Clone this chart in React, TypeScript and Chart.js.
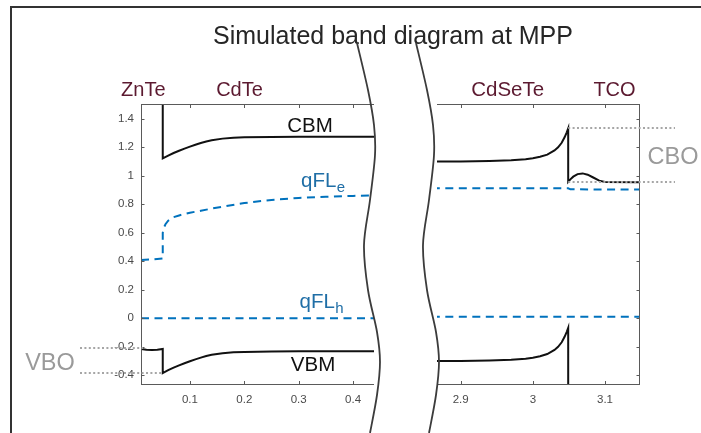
import React, { useEffect, useRef } from "react";
import { Chart, registerables } from "chart.js";

Chart.register(...registerables);

const FONT = '"Liberation Sans", Arial, Helvetica, sans-serif';

// ---------------- data ----------------
// shared energy axis (eV)
const Y_MIN = -0.461;
const Y_MAX = 1.504;
const yTicks = [-0.4, -0.2, 0, 0.2, 0.4, 0.6, 0.8, 1, 1.2, 1.4];
const yTickLabels = ["-0.4", "-0.2", "0", "0.2", "0.4", "0.6", "0.8", "1", "1.2", "1.4"];

// left panel: ZnTe / CdTe (position, µm)
const LEFT_X_MIN = 0.01;
const LEFT_X_MAX = 0.4385;
const leftXTicks = [0.1, 0.2, 0.3, 0.4];
const leftXTickLabels = ["0.1", "0.2", "0.3", "0.4"];

const cbmLeftX = [0.05, 0.05, 0.06, 0.07, 0.08, 0.09, 0.1, 0.11, 0.12, 0.13, 0.14, 0.16, 0.18, 0.2, 0.25, 0.3, 0.44];
const cbmLeftY = [1.9, 1.123, 1.142, 1.16, 1.176, 1.191, 1.205, 1.218, 1.23, 1.241, 1.25, 1.261, 1.267, 1.27, 1.273, 1.274, 1.274];

const vbmLeftX = [0.01, 0.02, 0.03, 0.04, 0.05, 0.05, 0.06, 0.07, 0.08, 0.09, 0.1, 0.11, 0.12, 0.13, 0.14, 0.16, 0.18, 0.2, 0.25, 0.3, 0.44];
const vbmLeftY = [-0.215, -0.221, -0.223, -0.221, -0.215, -0.384, -0.364, -0.346, -0.33, -0.315, -0.301, -0.288, -0.276, -0.265, -0.256, -0.245, -0.239, -0.236, -0.233, -0.232, -0.232];

const qfleLeftX = [0.01, 0.03, 0.05, 0.05, 0.052, 0.055, 0.06, 0.07, 0.08, 0.09, 0.1, 0.12, 0.14, 0.17, 0.2, 0.25, 0.3, 0.35, 0.4, 0.44];
const qfleLeftY = [0.41, 0.413, 0.42, 0.6, 0.635, 0.66, 0.685, 0.71, 0.722, 0.732, 0.741, 0.755, 0.77, 0.79, 0.809, 0.831, 0.845, 0.853, 0.859, 0.863];

const qflhLeftX = [0.01, 0.44];
const qflhLeftY = [0.0, 0.0];

// right panel: CdSeTe / TCO
const RIGHT_X_MIN = 2.8672;
const RIGHT_X_MAX = 3.1485;
const rightXTicks = [2.9, 3.0, 3.1];
const rightXTickLabels = ["2.9", "3", "3.1"];

const cbmRightX = [2.86, 2.9, 2.94, 2.97, 2.99, 3.0, 3.01, 3.02, 3.03, 3.035, 3.04, 3.044, 3.047, 3.049, 3.049, 3.052, 3.056, 3.062, 3.069, 3.076, 3.083, 3.092, 3.1, 3.15];
const cbmRightY = [1.1, 1.101, 1.104, 1.109, 1.117, 1.124, 1.134, 1.149, 1.178, 1.2, 1.232, 1.27, 1.305, 1.333, 0.958, 0.975, 0.994, 1.012, 1.017, 1.008, 0.99, 0.966, 0.957, 0.954];

const vbmRightX = [2.86, 2.9, 2.94, 2.97, 2.99, 3.0, 3.01, 3.02, 3.03, 3.035, 3.04, 3.044, 3.047, 3.049, 3.049];
const vbmRightY = [-0.3, -0.299, -0.296, -0.291, -0.283, -0.276, -0.266, -0.251, -0.222, -0.2, -0.168, -0.13, -0.095, -0.067, -3.0];

const qfleRightX = [2.86, 3.049, 3.052, 3.15];
const qfleRightY = [0.913, 0.912, 0.905, 0.904];

const qflhRightX = [2.86, 3.15];
const qflhRightY = [0.011, 0.011];

// band offsets marked on the figure
const VBO_TOP = -0.21;
const VBO_BOTTOM = -0.384;
const CBO_TOP = 1.333;
const CBO_BOTTOM = 0.96;
const INTERFACE_LEFT = 0.05;
const INTERFACE_RIGHT = 3.049;

// ---------------- styles ----------------
const BLACK = "#111111";
const BLUE = "#0072BD";
const LABEL_BLUE = "#1f6ea6";
const MAROON = "#5c1a30";
const AXIS = "#5a5a5a";
const TICK_TEXT = "#4a4a4a";
const GREY_TEXT = "#9a9a9a";
const DOT = "#a6a6a6";

const pts = (xs: number[], ys: number[]) => xs.map((x, i) => ({ x, y: ys[i] }));

const solid = (xs: number[], ys: number[]) => ({
  data: pts(xs, ys),
  borderColor: BLACK,
  borderWidth: 2,
  pointRadius: 0,
  tension: 0,
  fill: false,
});
const dashed = (xs: number[], ys: number[]) => ({
  data: pts(xs, ys),
  borderColor: BLUE,
  borderWidth: 2,
  borderDash: [8, 5.5],
  pointRadius: 0,
  tension: 0,
  fill: false,
});

function text(ctx: CanvasRenderingContext2D, s: string, x: number, y: number, size: number, color: string, align: CanvasTextAlign = "left") {
  ctx.font = `${size}px ${FONT}`;
  ctx.fillStyle = color;
  ctx.textAlign = align;
  ctx.textBaseline = "alphabetic";
  ctx.fillText(s, x, y);
}

function subText(ctx: CanvasRenderingContext2D, main: string, sub: string, x: number, y: number, size: number, subSize: number, color: string) {
  text(ctx, main, x, y, size, color);
  const w = ctx.measureText(main).width;
  text(ctx, sub, x + w + 0.5, y + 5, subSize, color);
}

function dotted(ctx: CanvasRenderingContext2D, x1: number, x2: number, y: number) {
  ctx.save();
  ctx.strokeStyle = DOT;
  ctx.lineWidth = 2;
  ctx.setLineDash([2, 2.4]);
  ctx.beginPath();
  ctx.moveTo(x1, Math.round(y));
  ctx.lineTo(x2, Math.round(y));
  ctx.stroke();
  ctx.restore();
}

function smoothPath(ctx: CanvasRenderingContext2D, p: number[][]) {
  ctx.moveTo(p[0][0], p[0][1]);
  for (let i = 0; i < p.length - 1; i++) {
    const p0 = p[i - 1] || p[i];
    const p1 = p[i];
    const p2 = p[i + 1];
    const p3 = p[i + 2] || p2;
    ctx.bezierCurveTo(
      p1[0] + (p2[0] - p0[0]) / 6, p1[1] + (p2[1] - p0[1]) / 6,
      p2[0] - (p3[0] - p1[0]) / 6, p2[1] - (p3[1] - p1[1]) / 6,
      p2[0], p2[1]
    );
  }
}

// break-mark squiggle shape (relative to its own origin)
const squiggle = [[357, 43], [368, 90], [374, 125], [375, 155], [370, 200], [364, 245], [368, 290], [377, 332], [380, 362], [377, 395], [370, 433]];

function drawBoxTicks(chart: any, side: "left" | "right") {
  const { ctx, chartArea: a, scales } = chart;
  ctx.save();
  ctx.strokeStyle = AXIS;
  ctx.lineWidth = 1;
  ctx.beginPath();
  ctx.moveTo(a.left, a.top + 0.5);
  ctx.lineTo(a.right, a.top + 0.5);
  ctx.moveTo(a.left, a.bottom + 0.5);
  ctx.lineTo(a.right, a.bottom + 0.5);
  const ex = side === "left" ? a.left + 0.5 : a.right - 0.5;
  ctx.moveTo(ex, a.top);
  ctx.lineTo(ex, a.bottom + 1);
  const xt = side === "left" ? leftXTicks : rightXTicks;
  for (const v of xt) {
    const px = Math.round(scales.x.getPixelForValue(v)) + 0.5;
    ctx.moveTo(px, a.bottom);
    ctx.lineTo(px, a.bottom - 3);
    ctx.moveTo(px, a.top + 1);
    ctx.lineTo(px, a.top + 4);
  }
  for (const v of yTicks) {
    const py = Math.round(scales.y.getPixelForValue(v)) + 0.5;
    if (side === "left") {
      ctx.moveTo(a.left, py);
      ctx.lineTo(a.left + 3.5, py);
    } else {
      ctx.moveTo(a.right, py);
      ctx.lineTo(a.right - 3.5, py);
    }
  }
  ctx.stroke();
  ctx.restore();
}

const leftPlugin = {
  id: "leftDecor",
  afterDraw(chart: any) {
    const { ctx, chartArea: a, scales } = chart;
    drawBoxTicks(chart, "left");
    // outer frame
    ctx.save();
    ctx.strokeStyle = "#333333";
    ctx.lineWidth = 2;
    ctx.beginPath();
    ctx.moveTo(11, 440);
    ctx.lineTo(11, 7);
    ctx.lineTo(710, 7);
    ctx.stroke();
    ctx.restore();
    // VBO marks
    const xi = scales.x.getPixelForValue(INTERFACE_LEFT);
    dotted(ctx, 80, a.left + 2, scales.y.getPixelForValue(VBO_TOP));
    dotted(ctx, 80, xi, scales.y.getPixelForValue(VBO_BOTTOM));
    text(ctx, "VBO", 50, 370, 23.5, GREY_TEXT, "center");
    // band labels
    text(ctx, "CBM", 310, 131.5, 20.5, BLACK, "center");
    text(ctx, "VBM", 313, 370.5, 20.5, BLACK, "center");
    subText(ctx, "qFL", "e", 301, 186.5, 20.5, 15, LABEL_BLUE);
    subText(ctx, "qFL", "h", 299.5, 308.3, 20.5, 15, LABEL_BLUE);
  },
};

const rightPlugin = {
  id: "rightDecor",
  afterDraw(chart: any) {
    const { ctx, chartArea: a, scales } = chart;
    drawBoxTicks(chart, "right");
    const xi = scales.x.getPixelForValue(INTERFACE_RIGHT);
    dotted(ctx, xi, a.right + 35, scales.y.getPixelForValue(CBO_TOP));
    dotted(ctx, xi, a.right + 35, scales.y.getPixelForValue(CBO_BOTTOM));
    text(ctx, "CBO", 673, 163.5, 23.5, GREY_TEXT, "center");
    // title and material labels
    text(ctx, "Simulated band diagram at MPP", 393, 44.3, 25, "#262626", "center");
    text(ctx, "ZnTe", 143.3, 95.7, 20, MAROON, "center");
    text(ctx, "CdTe", 239.5, 95.7, 20, MAROON, "center");
    text(ctx, "CdSeTe", 507.7, 96, 20.5, MAROON, "center");
    text(ctx, "TCO", 614.5, 96, 20, MAROON, "center");
    // axis-break squiggles
    ctx.save();
    ctx.strokeStyle = "#3c3c3c";
    ctx.lineWidth = 1.8;
    for (const off of [0, 59]) {
      ctx.beginPath();
      smoothPath(ctx, squiggle.map(([x, y]) => [x + off, y]));
      ctx.stroke();
    }
    ctx.restore();
  },
};

const tickFont = { family: FONT, size: 11.5 };

function leftConfig(): any {
  return {
    type: "line",
    data: {
      datasets: [
        solid(cbmLeftX, cbmLeftY),
        solid(vbmLeftX, vbmLeftY),
        dashed(qfleLeftX, qfleLeftY),
        dashed(qflhLeftX, qflhLeftY),
      ],
    },
    options: {
      animation: false,
      responsive: false,
      events: [],
      layout: { padding: { left: 0, top: 104, right: 327, bottom: 0 } },
      plugins: { legend: { display: false }, tooltip: { enabled: false }, title: { display: false } },
      scales: {
        x: {
          type: "linear",
          min: LEFT_X_MIN,
          max: LEFT_X_MAX,
          grid: { display: false, drawTicks: false },
          border: { display: false },
          afterBuildTicks: (s: any) => { s.ticks = leftXTicks.map((v) => ({ value: v })); },
          afterFit: (s: any) => { s.height = 49; },
          ticks: { padding: 9, color: TICK_TEXT, font: tickFont, autoSkip: false, maxRotation: 0, callback: (_v: any, i: number) => leftXTickLabels[i] },
        },
        y: {
          type: "linear",
          position: "left",
          min: Y_MIN,
          max: Y_MAX,
          grid: { display: false, drawTicks: false },
          border: { display: false },
          afterBuildTicks: (s: any) => { s.ticks = yTicks.map((v) => ({ value: v })); },
          afterFit: (s: any) => { s.width = 141; },
          ticks: { padding: 7, color: TICK_TEXT, font: tickFont, autoSkip: false, callback: (_v: any, i: number) => yTickLabels[i] },
        },
      },
    },
    plugins: [leftPlugin],
  };
}

function rightConfig(): any {
  return {
    type: "line",
    data: {
      datasets: [
        solid(cbmRightX, cbmRightY),
        solid(vbmRightX, vbmRightY),
        dashed(qfleRightX, qfleRightY),
        dashed(qflhRightX, qflhRightY),
      ],
    },
    options: {
      animation: false,
      responsive: false,
      events: [],
      layout: { padding: { left: 437, top: 104, right: 61, bottom: 0 } },
      plugins: { legend: { display: false }, tooltip: { enabled: false }, title: { display: false } },
      scales: {
        x: {
          type: "linear",
          min: RIGHT_X_MIN,
          max: RIGHT_X_MAX,
          grid: { display: false, drawTicks: false },
          border: { display: false },
          afterBuildTicks: (s: any) => { s.ticks = rightXTicks.map((v) => ({ value: v })); },
          afterFit: (s: any) => { s.height = 49; },
          ticks: { padding: 9, color: TICK_TEXT, font: tickFont, autoSkip: false, maxRotation: 0, callback: (_v: any, i: number) => rightXTickLabels[i] },
        },
        y: {
          type: "linear",
          display: false,
          min: Y_MIN,
          max: Y_MAX,
        },
      },
    },
    plugins: [rightPlugin],
  };
}

export default function App() {
  const leftRef = useRef<HTMLCanvasElement>(null);
  const rightRef = useRef<HTMLCanvasElement>(null);
  useEffect(() => {
    if (!leftRef.current || !rightRef.current) return;
    const l = new Chart(leftRef.current, leftConfig());
    const r = new Chart(rightRef.current, rightConfig());
    return () => {
      l.destroy();
      r.destroy();
    };
  }, []);
  const cs: React.CSSProperties = { position: "absolute", left: 0, top: 0, width: 701, height: 433 };
  return (
    <div style={{ position: "fixed", left: 0, top: 0, width: 701, height: 433, overflow: "hidden", background: "#ffffff" }}>
      <canvas ref={leftRef} width={701} height={433} style={cs} />
      <canvas ref={rightRef} width={701} height={433} style={cs} />
    </div>
  );
}
